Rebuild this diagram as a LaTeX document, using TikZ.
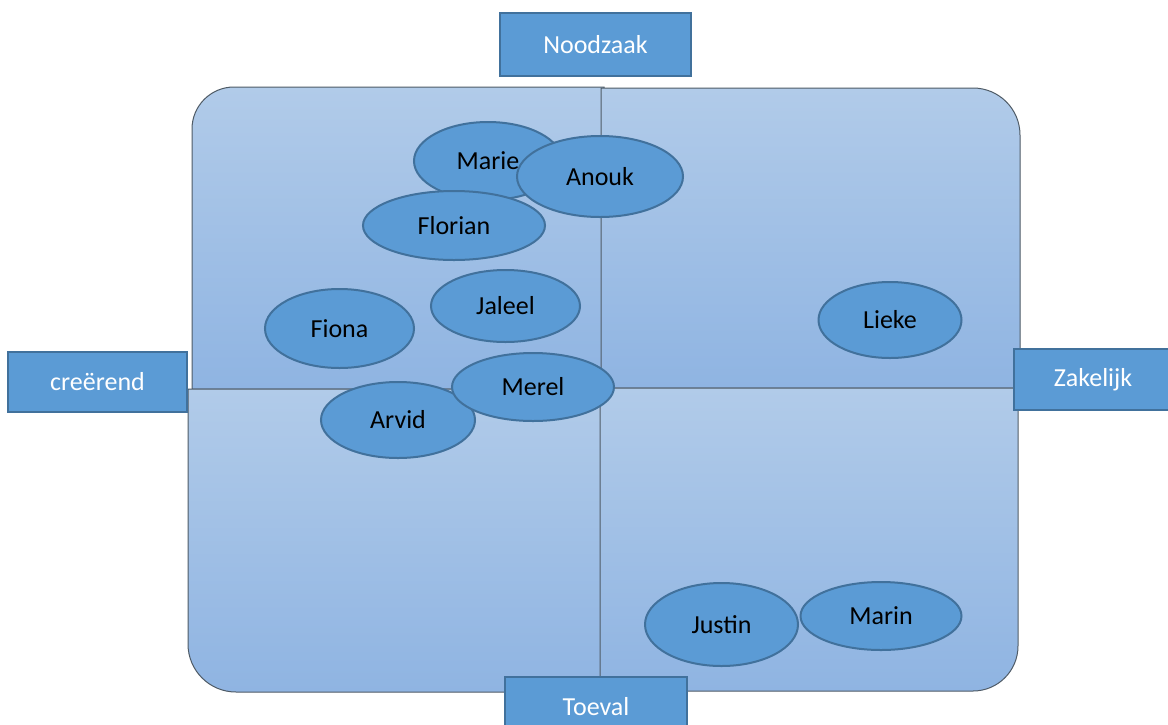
\documentclass[tikz,border=0pt]{standalone}
\usepackage{fontspec}
\setmainfont{Carlito}
\usetikzlibrary{shapes.geometric}
\definecolor{quadtop}{HTML}{B1CBE9}
\definecolor{quadbot}{HTML}{8FB4E2}
\definecolor{quadline}{HTML}{4F5B66}
\definecolor{bluefill}{HTML}{5B9BD5}
\definecolor{blueline}{HTML}{41719C}
\tikzset{
  quad/.style={draw=quadline, line width=1pt, top color=quadtop, bottom color=quadbot},
  person/.style={ellipse, draw=blueline, line width=2pt, fill=bluefill, inner sep=0pt,
    text=black, font=\fontsize{26}{31}\selectfont},
  axislabel/.style={rectangle, draw=blueline, line width=2pt, fill=bluefill, inner sep=0pt,
    text=white, font=\fontsize{26}{31}\selectfont}
}
\begin{document}
\begin{tikzpicture}[x=1pt,y=-1pt]
\useasboundingbox (0,0) rectangle (1168,724);
\clip (0,0) rectangle (1168,724);
\fill[white] (0,0) rectangle (1168,724);
% quadrants
\path[quad] (604,389) -- (192,389) -- (192,129) arc[start angle=180,end angle=270,radius=42] -- (604,87) -- cycle;
\path[quad] (601,388) -- (601,88) -- (973,88) arc[start angle=270,end angle=360,radius=47] -- (1020,388) -- cycle;
\path[quad] (601,389) -- (188,389) -- (188,644) arc[start angle=180,end angle=90,radius=48] -- (601,692) -- cycle;
\path[quad] (600,388) -- (1018,388) -- (1018,646) arc[start angle=0,end angle=90,radius=45] -- (600,691) -- cycle;
% axis labels
\node[axislabel, minimum width=191pt, minimum height=63pt] (noodzaak) at (595.5,44.5) {Noodzaak};
\node[axislabel, minimum width=179pt, minimum height=60pt] (creerend) at (97.5,382) {creërend};
\node[axislabel, minimum width=158pt, minimum height=61pt] (zakelijk) at (1093,379.5) {Zakelijk};
\node[axislabel, minimum width=182pt, minimum height=60pt] (toeval) at (596,707) {Toeval};
% persons
\node[person, minimum width=148pt, minimum height=78pt] (marie) at (488,161) {Marie};
\node[person, minimum width=182pt, minimum height=69pt] (florian) at (454,225.5) {Florian};
\node[person, minimum width=166pt, minimum height=81pt] (anouk) at (600,176.5) {Anouk};
\node[person, minimum width=149pt, minimum height=72pt] (jaleel) at (505.5,306) {Jaleel};
\node[person, minimum width=149pt, minimum height=79pt] (fiona) at (339.5,328.5) {Fiona};
\node[person, minimum width=143pt, minimum height=76pt] (lieke) at (890,320) {Lieke};
\node[person, minimum width=154pt, minimum height=76pt] (arvid) at (398,420) {Arvid};
\node[person, minimum width=162pt, minimum height=68pt] (merel) at (533,387) {Merel};
\node[person, minimum width=153pt, minimum height=83pt] (justin) at (721.5,624.5) {Justin};
\node[person, minimum width=161pt, minimum height=68pt] (marin) at (881,616) {Marin};
\end{tikzpicture}
\end{document}
